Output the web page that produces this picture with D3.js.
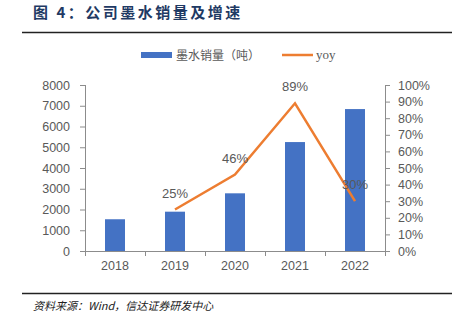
<!DOCTYPE html>
<html>
<head>
<meta charset="utf-8">
<script src="https://cdn.jsdelivr.net/npm/d3@7"></script>
<style>
  body { margin: 0; background: #fff; }
  svg { display: block; }
</style>
</head>
<body>
<div id="chart"></div>
<script>
// data
const years = ["2018", "2019", "2020", "2021", "2022"]
const sales = [1530, 1895, 2780, 5250, 6840]          // 墨水销量（吨）
const yoy = [null, 0.25, 0.46, 0.89, 0.30]
const yoyLabels = [null, "25%", "46%", "89%", "30%"]
const leftTicks = [0, 1000, 2000, 3000, 4000, 5000, 6000, 7000, 8000]
const rightTicks = [0, 0.1, 0.2, 0.3, 0.4, 0.5, 0.6, 0.7, 0.8, 0.9, 1.0]

const W = 456, H = 323
const margin = { top: 85, right: 71, bottom: 72, left: 85 }
const width = W - margin.left - margin.right
const height = H - margin.top - margin.bottom

const svg = d3.select("#chart").append("svg")
    .attr("width", W)
    .attr("height", H)

// title + rules
svg.append("text")
    .attr("x", 33).attr("y", 18)
    .attr("font-family", "Noto Sans CJK SC")
    .attr("font-size", 15)
    .attr("font-weight", "bold")
    .attr("letter-spacing", 2.5)
    .attr("fill", "#1f3a64")
    .text("图 4：公司墨水销量及增速")

svg.append("line")
    .attr("x1", 22).attr("x2", 452).attr("y1", 32.5).attr("y2", 32.5)
    .attr("stroke", "#222").attr("stroke-width", 1.5)
svg.append("line")
    .attr("x1", 22).attr("x2", 452).attr("y1", 293.5).attr("y2", 293.5)
    .attr("stroke", "#222").attr("stroke-width", 1.5)

svg.append("text")
    .attr("x", 33).attr("y", 310)
    .attr("font-family", "Noto Sans CJK SC")
    .attr("font-size", 11)
    .attr("font-style", "italic")
    .attr("fill", "#222")
    .text("资料来源：Wind，信达证券研发中心")

const g = svg.append("g")
    .attr("transform", "translate(" + margin.left + "," + margin.top + ")")

// scales
const x = d3.scaleBand().domain(years).range([0, width]).paddingInner(0).paddingOuter(0)
const y = d3.scaleLinear().domain([0, 8000]).range([height, 0])
const y2 = d3.scaleLinear().domain([0, 1]).range([height, 0])

const axisColor = "#8c8c8c"
const textColor = "#595959"

// bars
const barW = 20
g.selectAll(".bar")
    .data(sales)
    .enter().append("rect")
    .attr("class", "bar")
    .attr("x", function (d, i) { return x(years[i]) + x.bandwidth() / 2 - barW / 2 })
    .attr("y", function (d) { return y(d) })
    .attr("width", barW)
    .attr("height", function (d) { return height - y(d) })
    .attr("fill", "#4472c4")

// left axis
const axL = g.append("g")
    .call(d3.axisLeft(y).tickValues(leftTicks).tickSize(5).tickPadding(10)
        .tickFormat(d3.format("d")))
// right axis
const axR = g.append("g")
    .attr("transform", "translate(" + width + ",0)")
    .call(d3.axisRight(y2).tickValues(rightTicks).tickSize(5).tickPadding(8)
        .tickFormat(function (d) { return Math.round(d * 100) + "%" }))
// x axis
const axB = g.append("g")
    .attr("transform", "translate(0," + height + ")")
    .call(d3.axisBottom(x).tickSize(0).tickPadding(10))

// category boundary ticks
g.selectAll(".xtick")
    .data(years.concat(["end"]))
    .enter().append("line")
    .attr("x1", function (d, i) { return i * x.bandwidth() + 0.5 })
    .attr("x2", function (d, i) { return i * x.bandwidth() + 0.5 })
    .attr("y1", height).attr("y2", height + 5)
    .attr("stroke", axisColor)

;[axL, axR, axB].forEach(function (ax) {
    ax.select(".domain").attr("stroke", axisColor)
    ax.selectAll(".tick line").attr("stroke", axisColor)
    ax.selectAll("text")
        .attr("fill", textColor)
        .attr("font-size", 12.5)
        .attr("font-family", "Liberation Sans, Arial, sans-serif")
})
axL.select(".domain").attr("d", "M0.5,0V" + height)
axR.select(".domain").attr("d", "M0.5,0V" + height)
axB.select(".domain").attr("d", "M0," + 0.5 + "H" + width)

// yoy line
const pts = years.map(function (d, i) { return { year: d, v: yoy[i], label: yoyLabels[i] } })
    .filter(function (d) { return d.v !== null })

const line = d3.line()
    .x(function (d) { return x(d.year) + x.bandwidth() / 2 })
    .y(function (d) { return y2(d.v) })

g.append("path")
    .datum(pts)
    .attr("d", line)
    .attr("fill", "none")
    .attr("stroke", "#ed7d31")
    .attr("stroke-width", 2.5)

g.selectAll(".lbl")
    .data(pts)
    .enter().append("text")
    .attr("x", function (d) { return x(d.year) + x.bandwidth() / 2 })
    .attr("y", function (d) { return y2(d.v) - 12 })
    .attr("text-anchor", "middle")
    .attr("font-family", "Liberation Sans, Arial, sans-serif")
    .attr("font-size", 13)
    .attr("fill", textColor)
    .text(function (d) { return d.label })

// legend
svg.append("rect")
    .attr("x", 141).attr("y", 52).attr("width", 31).attr("height", 6)
    .attr("fill", "#4472c4")
svg.append("text")
    .attr("x", 176).attr("y", 60)
    .attr("font-family", "Noto Sans CJK SC")
    .attr("font-size", 12)
    .attr("fill", textColor)
    .text("墨水销量（吨）")
svg.append("line")
    .attr("x1", 282).attr("x2", 313).attr("y1", 55).attr("y2", 55)
    .attr("stroke", "#ed7d31").attr("stroke-width", 2.5)
svg.append("text")
    .attr("x", 316).attr("y", 59)
    .attr("font-family", "Liberation Serif, serif")
    .attr("font-size", 13)
    .attr("fill", textColor)
    .text("yoy")
</script>
</body>
</html>
